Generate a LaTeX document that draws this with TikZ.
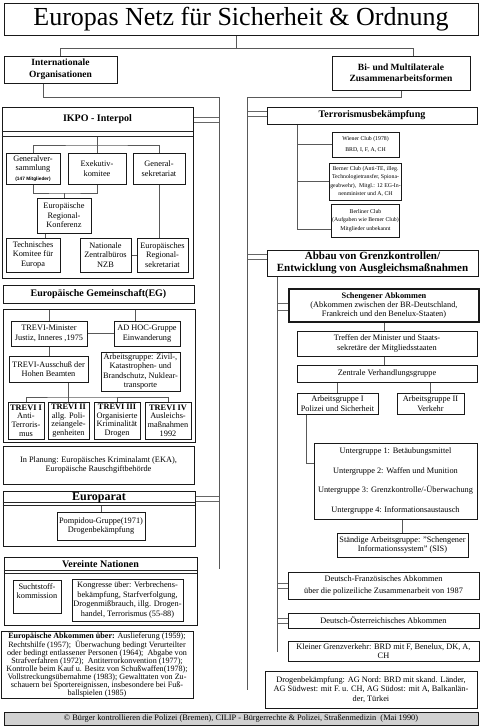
\documentclass[tikz,border=0pt]{standalone}
\usepackage{fontspec}
\setmainfont{Liberation Serif}
\newfontfamily\smallsans{Liberation Sans}
\usetikzlibrary{backgrounds}
\newcommand\FBody{\fontsize{8.3}{9.4}\selectfont}
\newcommand\FHead{\fontsize{10}{12}\selectfont\bfseries}
\newcommand\FBig{\fontsize{26}{30}\selectfont}
\newcommand\bx[7][]{%
  \pgfmathsetmacro\BXw{#4-#2}%
  \pgfmathsetmacro\BXh{#5-#3}%
  \pgfmathsetmacro\BXx{(#2+#4)/2}%
  \pgfmathsetmacro\BXy{(#3+#5)/2}%
  \node[box,minimum width=\BXw pt,minimum height=\BXh pt,#1] (#6) at (\BXx,\BXy) {#7};}
\begin{document}
\begin{tikzpicture}[x=1pt,y=-1pt,
  box/.style={draw=black!90,line width=0.75pt,inner sep=1pt,align=center,font=\FBody},
  hd/.style={font=\FHead},
  hdb/.style={font=\fontsize{9.5}{11.5}\selectfont\bfseries},
  hdl/.style={font=\fontsize{11}{11.5}\selectfont\bfseries},
  sm/.style={font=\fontsize{5.8}{8.4}\selectfont},
  tv/.style={font=\fontsize{8.3}{8.6}\selectfont},
  abk/.style={font=\fontsize{8.1}{7.95}\selectfont},
  thickbox/.style={line width=1.5pt},
  ln/.style={draw=black!65,line width=0.6pt},
  sepl/.style={draw=black!85,line width=0.6pt},
  dbl/.style={draw=black!60,line width=0.55pt,double=white,double distance=4.4pt}]
\useasboundingbox (0,0) rectangle (481,727);
\begin{pgfonlayer}{background}
\fill[white] (0,0) rectangle (481,727);
\end{pgfonlayer}

% ---------- top ----------
\bx[font=\FBig]{4}{3}{478}{35}{title}{Europas Netz für Sicherheit \& Ordnung}
\bx[hdb]{4}{56}{117}{83}{io}{Internationale\\Organisationen}
\bx[hdb]{332}{56}{470}{90}{bi}{Bi- und Multilaterale\\Zusammenarbeitsformen}

% ---------- IKPO ----------
\bx{2}{107}{193}{278}{ikpo}{}
\draw[sepl] ([yshift=-25pt]ikpo.north west) -- ([yshift=-25pt]ikpo.north east);
\draw[sepl] ([yshift=-30pt]ikpo.north west) -- ([yshift=-30pt]ikpo.north east);
\node[hd] (ikpoh) at (97.5,119.5) {IKPO - Interpol};
\bx{6}{153}{60}{184}{gen}{Generalver-\\sammlung\\{\smallsans\bfseries\fontsize{4.8}{6}\selectfont(147 Mitglieder)}}
\bx{68}{153}{126}{184}{exe}{Exekutiv-\\komitee}
\bx{133}{153}{185}{184}{gs}{General-\\sekretariat}
\bx{37}{198}{91}{233}{erk}{Europäische\\Regional-\\Konferenz}
\bx{6}{238}{60}{272}{tk}{Technisches\\Komitee für\\Europa}
\bx{80}{238}{131}{272}{nzb}{Nationale\\Zentralbüros\\NZB}
\bx{137}{238}{188}{272}{ers}{Europäisches\\Regional-\\sekretariat}

% ---------- EG ----------
\bx[hd]{3}{285}{194}{303}{egh}{Europäische Gemeinschaft(EG)}
\bx{3}{309}{195}{442}{egi}{}
\bx{11}{321}{87}{346}{tm}{TREVI-Minister\\Justiz, Inneres ,1975}
\bx{114}{321}{180}{346}{ah}{AD HOC-Gruppe\\Einwanderung}
\bx{9}{356}{88}{382}{ta}{TREVI-Ausschuß der\\Hohen Beamten}
\bx{101}{352}{180}{391}{agz}{Arbeitsgruppe: Zivil-,\\Katastrophen- und\\Brandschutz, Nuklear-\\transporte}
\bx[tv]{8}{402}{44}{439}{t1}{\textbf{TREVI I}\\Anti-\\Terroris-\\mus}
\bx[tv]{48}{402}{89}{439}{t2}{\textbf{TREVI II}\\allg. Poli-\\zeiangele-\\genheiten}
\bx[tv]{94}{402}{140}{439}{t3}{\textbf{TREVI III}\\Organisierte\\Kriminalität\\Drogen}
\bx[tv]{145}{402}{191}{439}{t4}{\textbf{TREVI IV}\\Ausleichs-\\maßnahmen\\1992}
\bx{3}{446}{194}{484}{plan}{In Planung: Europäisches Kriminalamt (EKA),\\Europäische Rauschgiftbehörde}

% ---------- Europarat ----------
\bx{3}{491}{195}{546}{epar}{}
\draw[sepl] ([yshift=-12pt]epar.north west) -- ([yshift=-12pt]epar.north east);
\draw[sepl] ([yshift=-15pt]epar.north west) -- ([yshift=-15pt]epar.north east);
\node[font=\fontsize{12}{14}\selectfont\bfseries] (eparh) at (99,497.5) {Europarat};
\bx{57}{512}{145}{540}{pomp}{Pompidou-Gruppe(1971)\\Drogenbekämpfung}

% ---------- Vereinte Nationen ----------
\bx{4}{557}{197}{625}{vn}{}
\draw[sepl] ([yshift=-14pt]vn.north west) -- ([yshift=-14pt]vn.north east);
\draw[sepl] ([yshift=-17pt]vn.north west) -- ([yshift=-17pt]vn.north east);
\node[hd] (vnh) at (100.5,564.5) {Vereinte Nationen};
\bx{13}{580}{61}{613}{sucht}{Suchtstoff-\\kommission\\[1pt]\mbox{}}
\bx{72}{579}{183}{621}{kong}{Kongresse über: Verbrechens-\\bekämpfung, Starfverfolgung,\\Drogenmißbrauch, illg. Drogen-\\handel, Terrorismus (55-88)}

\bx[abk]{1}{632}{193}{698}{eabk}{\textbf{Europäische Abkommen über:} Auslieferung (1959);\\Rechtshilfe (1957); \ Überwachung bedingt Verurteilter\\oder bedingt entlassener Personen (1964); \ Abgabe von\\Strafverfahren (1972); \ Antiterrorkonvention (1977);\\Kontrolle beim Kauf u. Besitz von Schußwaffen(1978);\\Vollstreckungsübernahme (1983); Gewalttaten von Zu-\\schauern bei Sportereignissen, insbesondere bei Fuß-\\ballspielen (1985)}

\bx[fill=black!18]{4}{712}{478}{725}{foot}{© Bürger kontrollieren die Polizei (Bremen), CILIP - Bürgerrechte \& Polizei, Straßenmedizin \ (Mai 1990)}

% ---------- right column ----------
\bx[hd]{267}{107}{477}{124}{terr}{Terrorismusbekämpfung}
\bx[sm]{332}{132}{399}{157}{wien}{Wiener Club (1978)\\[2pt]BRD, I, F, A, CH}
\bx[sm]{332}{163}{399}{200}{bern}{Berner Club (Anti-TE, illeg.\\Technologietransfer, Spiona-\\geabwehr), \ Mitgl.: 12 EG-In-\\nenminister und A, CH}
\bx[sm]{332}{204}{399}{237}{berl}{Berliner Club\\(Aufgaben wie Berner Club)\\Mitglieder unbekannt}
\bx[hdl]{267}{250}{478}{276}{abbau}{Abbau von Grenzkontrollen/\\Entwicklung von Ausgleichsmaßnahmen}
\bx[thickbox]{289}{289}{479}{322}{scheng}{\textbf{Schengener Abkommen}\\(Abkommen zwischen der BR-Deutschland,\\Frankreich und den Benelux-Staaten)}
\bx{297}{331}{477}{356}{treff}{Treffen der Minister und Staats-\\sekretäre der Mitgliedsstaaten}
\bx{297}{365}{477}{382}{zvg}{Zentrale Verhandlungsgruppe}
\bx{297}{393}{378}{414}{ag1}{Arbeitsgruppe I\\Polizei und Sicherheit}
\bx{397}{393}{464}{414}{ag2}{Arbeitsgruppe II\\Verkehr}
\bx{314}{443}{477}{519}{ug}{Untergruppe 1: Betäubungsmittel\\[10pt]Untergruppe 2: Waffen und Munition\\[10pt]Untergruppe 3: Grenzkontrolle/-Überwachung\\[10pt]Untergruppe 4: Informationsaustausch}
\bx{337}{533}{468}{557}{sis}{Ständige Arbeitsgruppe: "Schengener\\Informationssystem" (SIS)}
\bx{288}{572}{479}{599}{df}{Deutsch-Französisches Abkommen\\[2pt]über die polizeiliche Zusammenarbeit von 1987}
\bx{288}{613}{479}{628}{do}{Deutsch-Österreichisches Abkommen}
\bx[font=\fontsize{8.3}{9}\selectfont]{288}{641}{479}{661}{kg}{Kleiner Grenzverkehr: BRD mit F, Benelux, DK, A,\\CH}
\bx{265}{671}{477}{708}{drog}{Drogenbekämpfung: AG Nord: BRD mit skand. Länder,\\AG Südwest: mit F. u. CH, AG Südost: mit A, Balkanlän-\\der, Türkei}

% ---------- connectors ----------
\begin{pgfonlayer}{background}
% double connectors from trunks to boxes
\coordinate (d1) at (219,120);   \draw[dbl] (d1) -- (d1 -| ikpo.east);
\coordinate (d2) at (219,293.5); \draw[dbl] (d2) -- (d2 -| egh.east);
\coordinate (d3) at (219,499);   \draw[dbl] (d3) -- (d3 -| epar.east);
\coordinate (d4) at (219,565.5); \draw[dbl] (d4) -- (d4 -| vn.east);
\coordinate (d5) at (247,114);   \draw[dbl] (d5) -- (d5 -| terr.west);
\coordinate (d6) at (247,257);   \draw[dbl] (d6) -- (d6 -| abbau.west);
\coordinate (d7) at (247,687.5); \draw[dbl] (d7) -- (d7 -| drog.west);
\coordinate (d8) at (277,307);   \draw[dbl,double distance=6.5pt] (d8) -- (d8 -| scheng.west);
\coordinate (d9) at (277,586);   \draw[dbl] (d9) -- (d9 -| df.west);
\coordinate (d10) at (277,621);  \draw[dbl] (d10) -- (d10 -| do.west);
\coordinate (d11) at (277,649.5);\draw[dbl] (d11) -- (d11 -| kg.west);

% top tree
\draw[ln] ([xshift=-5pt]title.south) -- ++(0,13) coordinate (j0);
\draw[ln] (io.north) |- (j0) -| ([xshift=12pt]bi.north);

% trunks
\coordinate (lt) at (219,97); \coordinate (lb) at (219,568.5);
\draw[ln] ([xshift=-17.5pt]io.south) |- (lt) -- (lb);
\coordinate (rt) at (247,97); \coordinate (rb) at (247,690.3);
\draw[ln] (bi.south) |- (rt) -- (rb);
\coordinate (st) at (277,276); \coordinate (sb) at (277,652.3);
\draw[ln] (st) -- (sb);

% IKPO internal
\coordinate (ik0) at (97,137); \coordinate (ikh) at (97,145);
\draw[ln] (ik0) -- (ikh);
\draw[ln] (gen.north) |- (ikh) -| (gs.north);
\draw[ln] (exe.north) -- (exe.north |- ikh);
\coordinate (ikl) at (64,193);
\draw[ln] (gen.south) |- (ikl) -| (exe.south);
\draw[ln] (erk.north) -- (erk.north |- ikl);
\coordinate (erkx) at ([xshift=-19pt]erk.south);
\draw[ln] (erkx) -- (erkx |- tk.north);
\draw[ln] (nzb.east) -- (ers.west);
\draw[ln] (gs.south) -- (gs.south |- ers.north);

% EG internal
\draw[ln] (tm.north) -- (tm.north |- egi.north);
\coordinate (ahx) at ([xshift=-12pt]ah.north);
\draw[ln] (ahx) -- (ahx |- egi.north);
\draw[ln] (tm.east) -- (ah.west);
\draw[ln] (tm.south) -- (tm.south |- ta.north);
\coordinate (trh) at (68,397);
\draw[ln] (t2.north |- ta.south) -- (t2.north);
\draw[ln] (t1.north) |- (trh) -| (t4.north);
\draw[ln] (t3.north) -- (t3.north |- trh);

% Europarat
\draw[ln] (pomp.north) -- ++(0,-6);

% Terrorism
\coordinate (tvt) at (297,124); \coordinate (tvb) at (297,229);
\draw[ln] (tvt) -- (tvb) -- (tvb -| berl.west);
\draw[ln] (tvt |- wien.west) -- (wien.west);
\draw[ln] (tvt |- bern.west) -- (bern.west);

% Schengen
\draw[ln] (scheng.south) -- (scheng.south |- treff.north);
\draw[ln] (scheng.south |- treff.south) -- (scheng.south |- zvg.north);
\draw[ln] (ag1.north) -- (ag1.north |- zvg.south);
\draw[ln] (ag2.north) -- (ag2.north |- zvg.south);
\coordinate (agy) at (306,463);
\draw[ln] (ag1.south -| agy) -- (agy) -- (agy -| ug.west);
\draw[ln] (sis.north) -- (sis.north |- ug.south);
\end{pgfonlayer}
\end{tikzpicture}
\end{document}
